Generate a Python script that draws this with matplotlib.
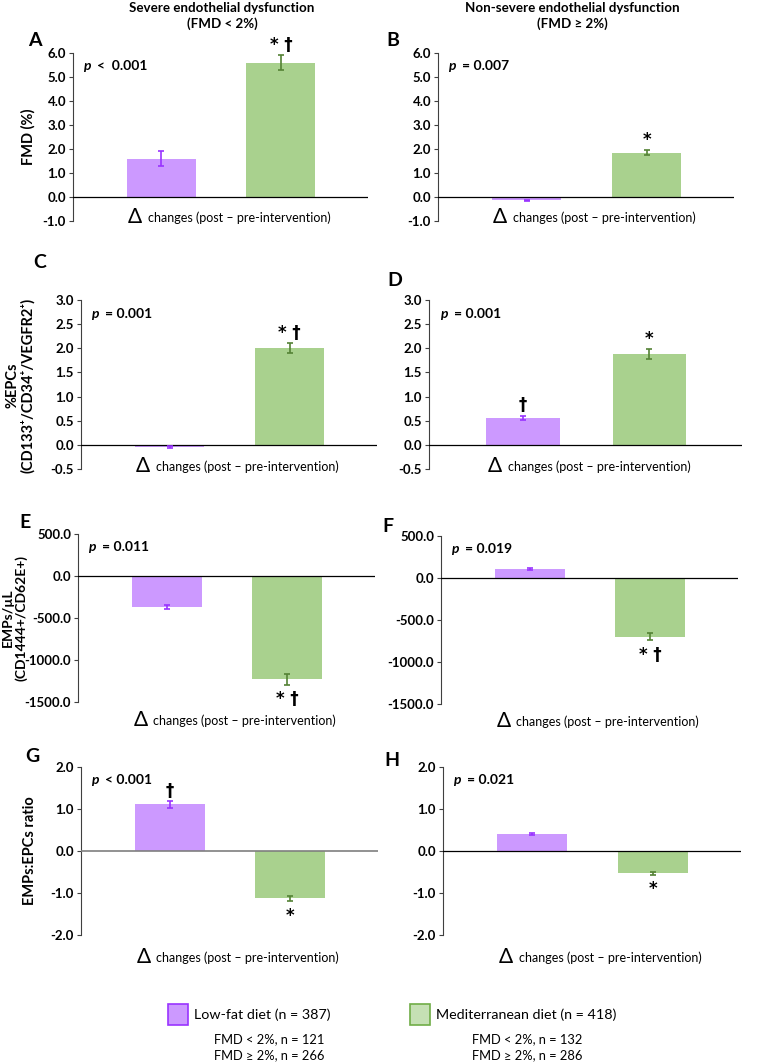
import matplotlib
matplotlib.use("Agg")
import matplotlib.pyplot as plt
from matplotlib.patches import Rectangle

plt.rcParams['font.family'] = ['Lato', 'DejaVu Sans']

# values (delta changes, post - pre intervention)
panel_letters = ["A", "B", "C", "D", "E", "F", "G", "H"]
lowfat_vals = [1.60, -0.14, -0.05, 0.56, -373, 107, 1.11, 0.40]
lowfat_err = [0.32, 0.03, 0.02, 0.045, 25, 8, 0.08, 0.03]
med_vals = [5.60, 1.85, 2.00, 1.88, -1230, -700, -1.13, -0.53]
med_err = [0.30, 0.10, 0.10, 0.10, 65, 40, 0.07, 0.03]
p_labels = ["<  0.001", "= 0.007", "= 0.001", "= 0.001",
            "= 0.011", "= 0.019", "< 0.001", "= 0.021"]
lowfat_marks = ["", "", "", "\u2020", "", "", "\u2020", ""]
med_marks = ["* \u2020", "*", "* \u2020", "*", "* \u2020", "* \u2020", "*", "*"]
y_limits = [(-1, 6), (-1, 6), (-0.5, 3), (-0.5, 3),
            (-1500, 500), (-1500, 500), (-2, 2), (-2, 2)]
y_steps = [1.0, 1.0, 0.5, 0.5, 500, 500, 1.0, 1.0]
row_ylabels = ["FMD (%)", "%EPCs\n(CD133\u207a/CD34\u207a/VEGFR2\u207a)",
               "EMPs/\u00b5L\n(CD1444+/CD62E+)", "EMPs:EPCs ratio"]
col_titles = ["Severe endothelial dysfunction\n(FMD < 2%)",
              "Non-severe endothelial dysfunction\n(FMD \u2265 2%)"]
legend_labels = ["Low-fat diet (n = 387)", "Mediterranean diet (n = 418)"]
legend_sub = [["FMD < 2%, n = 121", "FMD \u2265 2%, n = 266"],
              ["FMD < 2%, n = 132", "FMD \u2265 2%, n = 286"]]

W, H = 760, 1062
PURPLE = "#cc99ff"
PURPLE_DARK = "#9933ff"
GREEN = "#a9d18e"
GREEN_DARK = "#548235"

# axes boxes in pixels: left, top, right, bottom
boxes = [(73, 53, 368, 221), (438, 53, 734, 221),
         (81, 300, 377, 469), (429, 300, 742, 469),
         (78, 534, 375, 702), (441, 536, 738, 704),
         (81, 767, 378, 935), (443, 767, 741, 935)]
letter_pos = [(35, 40), (393, 40), (40, 262), (395, 281),
              (25, 522), (388, 527), (32, 757), (392, 760)]
delta_y = [217, 217, 466, 466, 720, 721, 957, 957]

fig = plt.figure(figsize=(W / 100, H / 100), dpi=100)


def fx(x):
    return x / W


def fy(y):
    return 1 - y / H


for i in range(8):
    l, t, r, b = boxes[i]
    ax = fig.add_axes([fx(l), fy(b), fx(r) - fx(l), fy(t) - fy(b)])
    ax.set_xlim(-0.74, 1.73)
    ymin, ymax = y_limits[i]
    ax.set_ylim(ymin, ymax)
    n = int(round((ymax - ymin) / y_steps[i]))
    ax.set_yticks([ymin + k * y_steps[i] for k in range(n + 1)])
    ax.yaxis.set_major_formatter(matplotlib.ticker.FormatStrFormatter('%.1f'))
    for lab in ax.get_yticklabels():
        lab.set_fontweight('bold')
    ax.tick_params(axis='y', labelsize=9.5, length=3, width=0.8, pad=2, color='#404040')
    ax.set_xticks([])
    for s in ['top', 'right', 'bottom']:
        ax.spines[s].set_visible(False)
    ax.spines['left'].set_color('#404040')
    ax.spines['left'].set_linewidth(0.8)

    zero_col = '#7f7f7f' if i == 6 else 'black'
    ax.axhline(0, color=zero_col, lw=1.2 if i == 6 else 0.9, zorder=3)

    ax.bar([0], [lowfat_vals[i]], width=0.58, color=PURPLE, zorder=2)
    ax.bar([1], [med_vals[i]], width=0.58, color=GREEN, zorder=2)
    ax.errorbar([0], [lowfat_vals[i]], yerr=[lowfat_err[i]], fmt='none',
                ecolor=PURPLE_DARK, elinewidth=1.2, capsize=2.5, capthick=1.2, zorder=4)
    ax.errorbar([1], [med_vals[i]], yerr=[med_err[i]], fmt='none',
                ecolor=GREEN_DARK, elinewidth=1.2, capsize=2.5, capthick=1.2, zorder=4)

    for xpos, val, err, mark in [(0, lowfat_vals[i], lowfat_err[i], lowfat_marks[i]),
                                 (1, med_vals[i], med_err[i], med_marks[i])]:
        if not mark:
            continue
        if val >= 0:
            ax.annotate(mark, (xpos, val + err), xytext=(0, 1), textcoords='offset points',
                        ha='center', va='bottom', fontsize=12, fontweight='bold',
                        family=['DejaVu Sans'])
        else:
            ax.annotate(mark, (xpos, val - err), xytext=(0, -4), textcoords='offset points',
                        ha='center', va='top', fontsize=12, fontweight='bold',
                        family=['DejaVu Sans'])

    ax.text(0.035, 0.92, "p", transform=ax.transAxes, fontsize=10,
            fontweight='bold', fontstyle='italic', va='center', ha='left')
    ax.text(0.08, 0.92, p_labels[i], transform=ax.transAxes, fontsize=10,
            fontweight='bold', va='center', ha='left')

    # delta label under each panel
    dx = l + 0.21 * (r - l)
    fig.text(fx(dx), fy(delta_y[i]), "\u0394", fontsize=15, ha='center', va='center')
    fig.text(fx(dx + 13), fy(delta_y[i] + 1), "changes (post \u2013 pre-intervention)",
             fontsize=9.0, ha='left', va='center')

    lx, ly = letter_pos[i]
    fig.text(fx(lx), fy(ly), panel_letters[i], fontsize=14, fontweight='bold',
             ha='center', va='center')

# row y labels
ylab_x = [28, 20, 15, 30]
ylab_y = [137, 385, 618, 851]
ylab_size = [10.5, 10.5, 10, 10.5]
for k in range(4):
    fig.text(fx(ylab_x[k]), fy(ylab_y[k]), row_ylabels[k], rotation=90, fontsize=ylab_size[k],
             fontweight='bold', ha='center', va='center', linespacing=1.1)

# column titles
fig.text(fx(222), fy(16), col_titles[0], fontsize=9.6, fontweight='bold',
         ha='center', va='center', linespacing=1.3)
fig.text(fx(572), fy(16), col_titles[1], fontsize=9.6, fontweight='bold',
         ha='center', va='center', linespacing=1.3)

# legend at the bottom
leg_x = [168, 410]
sub_x = [214, 472]
leg_fill = [PURPLE, "#c5e0b4"]
leg_edge = [PURPLE_DARK, "#70ad47"]
for k in range(2):
    fig.add_artist(Rectangle((fx(leg_x[k]), fy(1025)), fx(20), 21 / H,
                             facecolor=leg_fill[k], edgecolor=leg_edge[k], lw=1.2,
                             transform=fig.transFigure))
    fig.text(fx(leg_x[k] + 26), fy(1015), legend_labels[k], fontsize=10.3,
             ha='left', va='center')
    fig.text(fx(sub_x[k]), fy(1039), legend_sub[k][0], fontsize=9.3, ha='left', va='center')
    fig.text(fx(sub_x[k]), fy(1055), legend_sub[k][1], fontsize=9.3, ha='left', va='center')

fig.savefig("out.png", dpi=100)
